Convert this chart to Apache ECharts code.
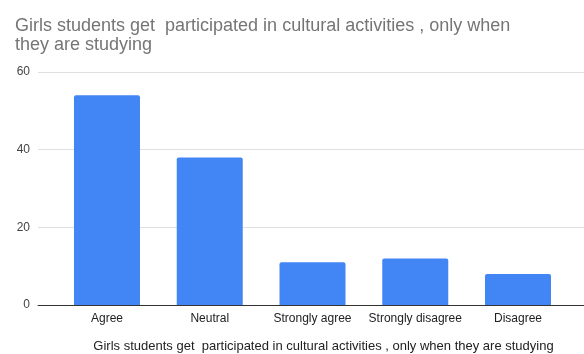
<!DOCTYPE html>
<html>
<head>
<meta charset="utf-8">
<script src="https://cdn.jsdelivr.net/npm/echarts@6/dist/echarts.min.js"></script>
<style>html,body{margin:0;padding:0;background:#fff;}#c{width:584px;height:354px;}</style>
</head>
<body>
<div id="c"></div>
<script>
const titleText = "Girls students get  participated in cultural activities , only when\nthey are studying";
const axisTitle = "Girls students get  participated in cultural activities , only when they are studying";
const categories = ["Agree", "Neutral", "Strongly agree", "Strongly disagree", "Disagree"];
const values = [54, 38, 11, 12, 8];
const yTicks = [0, 20, 40, 60];

const chart = echarts.init(document.getElementById('c'), null, {renderer: 'canvas'});
const font = "Liberation Sans, Arial, sans-serif";
chart.setOption({
  animation: false,
  backgroundColor: '#fff',
  title: {
    text: titleText,
    left: 10, top: 12,
    textStyle: {fontFamily: font, fontSize: 18, fontWeight: 'normal', color: '#757575', lineHeight: 19}
  },
  grid: [
    {left: 38, right: 0, top: 72, bottom: 49, outerBoundsMode: 'none', containLabel: false},
    {left: 55.6, right: 14.6, top: 72, bottom: 49, outerBoundsMode: 'none', containLabel: false}
  ],
  graphic: [{
    type: 'text', x: 323.5, y: 346,
    style: {text: axisTitle, font: '13px ' + font, fill: '#222', textAlign: 'center', textVerticalAlign: 'middle'}
  }],
  xAxis: [
    {gridIndex: 0, type: 'value', min: 0, max: 1, axisLabel: {show: false}, axisTick: {show: false}, splitLine: {show: false},
     axisLine: {show: true, lineStyle: {color: '#333', width: 1}}},
    {gridIndex: 1, type: 'category', data: categories, axisTick: {show: false}, axisLine: {show: false},
     axisLabel: {fontFamily: font, fontSize: 12, color: '#222', margin: 8, interval: 0}}
  ],
  yAxis: [
    {gridIndex: 0, type: 'value', min: yTicks[0], max: yTicks[yTicks.length - 1], interval: 20,
     axisLine: {show: false}, axisTick: {show: false},
     axisLabel: {fontFamily: font, fontSize: 12, color: '#444', margin: 8},
     splitLine: {lineStyle: {color: '#e0e0e0', width: 1}}},
    {gridIndex: 1, type: 'value', min: yTicks[0], max: yTicks[yTicks.length - 1], interval: 20,
     axisLine: {show: false}, axisTick: {show: false}, axisLabel: {show: false}, splitLine: {show: false}}
  ],
  series: [{
    type: 'bar', xAxisIndex: 1, yAxisIndex: 1, data: values, barWidth: 66,
    itemStyle: {color: '#4285F4', borderRadius: [2, 2, 0, 0]}
  }]
});
</script>
</body>
</html>
